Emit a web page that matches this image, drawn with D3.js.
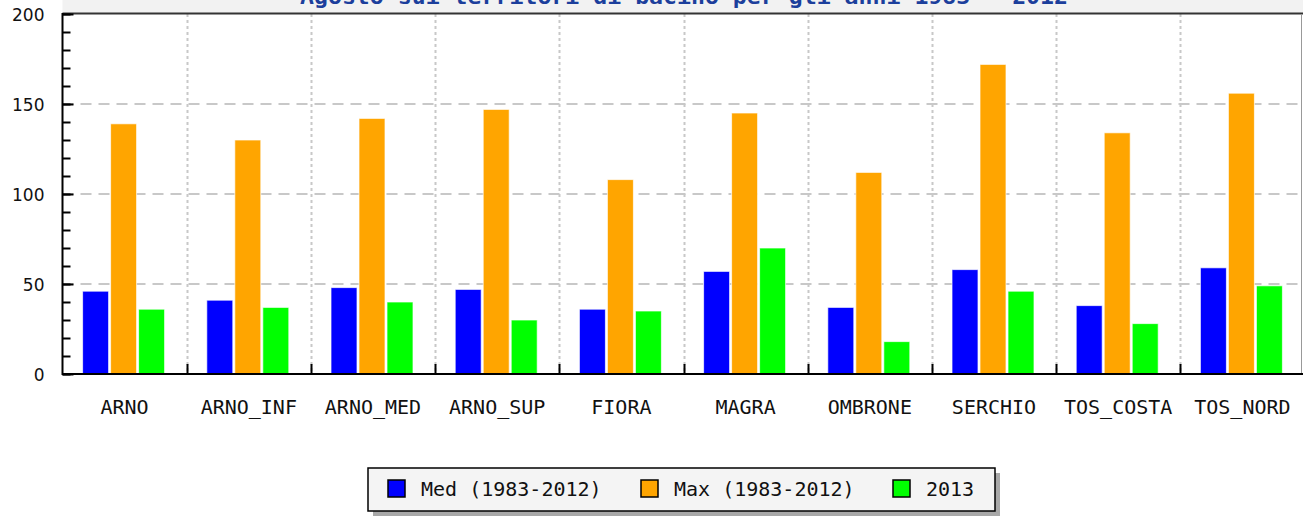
<!DOCTYPE html>
<html>
<head>
<meta charset="utf-8">
<script src="https://cdn.jsdelivr.net/npm/d3@7"></script>
<style>
  body { margin: 0; background: #fff; }
  svg { display: block; }
</style>
</head>
<body>
<div id="chart"></div>
<script>
'use strict';

// Data
const categories = ['ARNO', 'ARNO_INF', 'ARNO_MED', 'ARNO_SUP', 'FIORA', 'MAGRA', 'OMBRONE', 'SERCHIO', 'TOS_COSTA', 'TOS_NORD']
const medValues = [46, 41, 48, 47, 36, 57, 37, 58, 38, 59]
const maxValues = [139, 130, 142, 147, 108, 145, 112, 172, 134, 156]
const values2013 = [36, 37, 40, 30, 35, 70, 18, 46, 28, 49]
const seriesNames = ['Med (1983-2012)', 'Max (1983-2012)', '2013']
const yTicks = [0, 50, 100, 150, 200]
const titleText = 'Agosto sui territori di bacino per gli anni 1983 - 2012'

const colors = ['#0000ff', '#ffa500', '#00ff00']
const series = [medValues, maxValues, values2013]

const W = 1303, H = 518
const plot = {left: 62.5, right: 1304.5, top: 14, bottom: 374}
const mono = "'DejaVu Sans Mono', monospace"

const svg = d3.select('#chart')
  .append('svg')
  .attr('width', W)
  .attr('height', H)

// title band (cut off at the top, as in the source image)
svg.append('rect')
  .attr('x', plot.left).attr('y', -20)
  .attr('width', W - plot.left).attr('height', plot.top + 20)
  .attr('fill', '#f2f2f2')

svg.append('text')
  .attr('x', 684).attr('y', 4)
  .attr('text-anchor', 'middle')
  .attr('textLength', 768)
  .attr('lengthAdjust', 'spacingAndGlyphs')
  .style('font', `bold 22px ${mono}`)
  .attr('fill', '#1c3f9c')
  .text(titleText)

const y = d3.scaleLinear().domain([0, 200]).range([plot.bottom, plot.top])
const x0 = d3.scaleBand().domain(categories).range([plot.left, plot.right])
const x1 = d3.scaleBand().domain(d3.range(series.length)).range([-42, 42])

// grid
const grid = svg.append('g')
grid.selectAll('line.h')
  .data(yTicks.filter(d => d > 0 && d < 200))
  .join('line')
  .attr('class', 'h')
  .attr('x1', plot.left).attr('x2', W)
  .attr('y1', d => y(d)).attr('y2', d => y(d))
  .attr('stroke', '#c8c8c8')
  .attr('stroke-width', 2)
  .attr('stroke-dasharray', '11,7')

grid.selectAll('line.v')
  .data(categories.slice(1))
  .join('line')
  .attr('class', 'v')
  .attr('x1', d => Math.round(x0(d)) + 0.5).attr('x2', d => Math.round(x0(d)) + 0.5)
  .attr('y1', plot.top).attr('y2', plot.bottom)
  .attr('stroke', '#c8c8c8')
  .attr('stroke-width', 2)
  .attr('stroke-dasharray', '3,3')

// bars
const groups = svg.append('g')
  .selectAll('g')
  .data(categories)
  .join('g')
  .attr('transform', d => `translate(${x0(d) + x0.bandwidth() / 2},0)`)

groups.selectAll('rect')
  .data((d, i) => series.map((s, k) => ({k: k, value: s[i]})))
  .join('rect')
  .attr('x', d => x1(d.k))
  .attr('width', x1.bandwidth() - 2)
  .attr('y', d => y(d.value))
  .attr('height', d => y(0) - y(d.value))
  .attr('fill', d => colors[d.k])
  .attr('stroke', 'rgba(255,255,255,0.7)')
  .attr('stroke-width', 1)

// top border and right border
svg.append('line')
  .attr('x1', plot.left).attr('x2', W)
  .attr('y1', plot.top - 0.5).attr('y2', plot.top - 0.5)
  .attr('stroke', '#333').attr('stroke-width', 2)
svg.append('line')
  .attr('x1', W - 1.5).attr('x2', W - 1.5)
  .attr('y1', plot.top).attr('y2', plot.bottom)
  .attr('stroke', '#999').attr('stroke-width', 1)

// y axis: minor + major ticks inside, labels outside
const yAxisMinor = svg.append('g')
  .attr('transform', `translate(${plot.left},0)`)
  .call(d3.axisRight(y).tickValues(d3.range(0, 201, 10)).tickSize(8).tickFormat(''))
const yAxisMajor = svg.append('g')
  .attr('transform', `translate(${plot.left},0)`)
  .call(d3.axisRight(y).tickValues(yTicks).tickSize(11).tickFormat(''))
;[yAxisMinor, yAxisMajor].forEach(g => {
  g.select('.domain').remove()
  g.selectAll('line').attr('stroke', '#000').attr('stroke-width', 2)
})

svg.append('g')
  .attr('transform', `translate(${plot.left},0)`)
  .call(d3.axisLeft(y).tickValues(yTicks).tickSize(0).tickPadding(18))
  .call(g => g.select('.domain').remove())
  .call(g => g.selectAll('text')
    .style('font', "17px 'DejaVu Sans', sans-serif")
    .attr('fill', '#111')
    .attr('dy', '0.4em'))

svg.append('line')
  .attr('x1', plot.left).attr('x2', plot.left)
  .attr('y1', plot.top - 1).attr('y2', plot.bottom + 1)
  .attr('stroke', '#000').attr('stroke-width', 2)

// x axis
const xAxis = svg.append('g')
  .attr('transform', `translate(0,${plot.bottom})`)
xAxis.append('line')
  .attr('x1', plot.left).attr('x2', W)
  .attr('stroke', '#000').attr('stroke-width', 2)
xAxis.selectAll('line.tick')
  .data(categories.slice(1))
  .join('line')
  .attr('class', 'tick')
  .attr('x1', d => Math.round(x0(d)) + 0.5).attr('x2', d => Math.round(x0(d)) + 0.5)
  .attr('y1', 0).attr('y2', -10)
  .attr('stroke', '#000').attr('stroke-width', 2)
xAxis.selectAll('text')
  .data(categories)
  .join('text')
  .attr('x', d => x0(d) + x0.bandwidth() / 2)
  .attr('y', 40)
  .attr('text-anchor', 'middle')
  .style('font', `20px ${mono}`)
  .attr('fill', '#111')
  .text(d => d)

// legend
const legendBox = {x: 368, y: 468, w: 627, h: 43}
const legendX = [388, 641, 893]
const legend = svg.append('g')
legend.append('rect')
  .attr('x', legendBox.x + 5).attr('y', legendBox.y + 5)
  .attr('width', legendBox.w).attr('height', legendBox.h)
  .attr('fill', '#a8a8a8')
legend.append('rect')
  .attr('x', legendBox.x).attr('y', legendBox.y)
  .attr('width', legendBox.w).attr('height', legendBox.h)
  .attr('fill', '#f4f4f4')
  .attr('stroke', '#000').attr('stroke-width', 1.5)

const items = legend.selectAll('g.item')
  .data(seriesNames)
  .join('g')
  .attr('class', 'item')
  .attr('transform', (d, i) => `translate(${legendX[i]},${legendBox.y + 12})`)
items.append('rect')
  .attr('width', 17).attr('height', 17)
  .attr('fill', (d, i) => colors[i])
  .attr('stroke', '#000').attr('stroke-width', 1.5)
items.append('text')
  .attr('x', 33).attr('y', 16)
  .style('font', `20px ${mono}`)
  .attr('fill', '#111')
  .text(d => d)
</script>
</body>
</html>
